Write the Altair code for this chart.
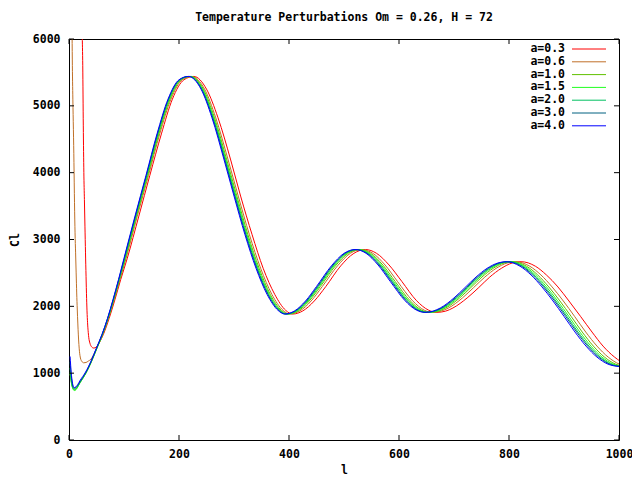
import altair as alt
import pandas as pd

TITLE = "Temperature Perturbations Om = 0.26, H = 72"
X_TITLE = "l"
Y_TITLE = "Cl"
X_TICKS = [0, 200, 400, 600, 800, 1000]
Y_TICKS = [0, 1000, 2000, 3000, 4000, 5000, 6000]

LABELS = ["a=0.3", "a=0.6", "a=1.0", "a=1.5", "a=2.0", "a=3.0", "a=4.0"]
COLORS = ["#ff0000", "#c07028", "#60c000", "#20ff20", "#00c060", "#006080", "#0000ff"]

# shared Cl values of the oscillating part (same peak/trough heights for all a)
CL_MAIN = [1580, 1820, 2100, 2400, 2720, 3350, 3960, 4580, 5100, 5390,
           5440, 5250, 4820, 4190, 3650, 3070, 2570, 2180, 1940, 1885,
           1931, 2080, 2297, 2605, 2793, 2850, 2794, 2618, 2374, 2084,
           1942, 1910, 1929, 1975, 2126, 2281, 2438, 2568, 2649, 2668,
           2600, 2470, 2290, 2080, 1850, 1615, 1405, 1240, 1135, 1100]

# multipole positions of those values for each curve
L_MAIN = {
    "a=0.3": [62.5, 73, 83.5, 94, 106, 127, 147, 168, 188, 209,
              227, 250, 271, 294, 312, 333, 353, 374, 394, 407,
              425, 446, 467, 494, 518, 539, 559, 582, 605, 632,
              654, 669, 685, 698, 724, 745, 765, 786, 806, 822,
              848, 868, 889, 909, 930, 951, 971, 992, 1012, 1033],
    "a=0.6": [61.6, 71.9, 82.3, 92.6, 103.8, 124.2, 144.6, 165, 185.4, 205.8,
              223.1, 246.5, 266.9, 289.4, 307.7, 328.1, 348.4, 368.8, 389.2, 401.5,
              419.8, 440.2, 460.6, 488.1, 511.5, 531.9, 552.3, 574.7, 597.1, 624.6,
              646.1, 661.3, 676.7, 689.9, 715.4, 735.7, 756.1, 776.5, 796.9, 812.2,
              837.7, 858, 878.4, 898.8, 919.2, 939.6, 960, 980.4, 1000.7, 1021.1],
    "a=1.0": [61.1, 71.2, 81.5, 91.7, 102.6, 122.8, 143.1, 163.4, 183.6, 203.9,
              221.1, 244.4, 264.6, 286.9, 305.2, 325.4, 345.7, 365.9, 386.2, 398.4,
              416.6, 436.8, 457.1, 484.4, 507.7, 528, 548.3, 570.6, 592.8, 620.2,
              641.5, 656.6, 671.8, 685, 710.3, 730.6, 750.8, 771.1, 791.4, 806.6,
              831.9, 852.1, 872.4, 892.6, 912.9, 933.2, 953.4, 973.7, 993.9, 1014.2],
    "a=1.5": [60.8, 70.9, 81, 91.2, 101.7, 121.9, 142.1, 162.3, 182.4, 202.6,
              219.8, 243, 263.1, 285.3, 303.5, 323.7, 343.8, 364, 384.2, 396.3,
              414.4, 434.6, 454.8, 482, 505.2, 525.4, 545.6, 567.8, 589.9, 617.2,
              638.4, 653.5, 668.6, 681.8, 707, 727.1, 747.3, 767.5, 787.7, 802.8,
              828, 848.2, 868.4, 888.5, 908.7, 928.9, 949, 969.2, 989.4, 1009.6],
    "a=2.0": [60.5, 70.6, 80.7, 90.8, 101.1, 121.2, 141.3, 161.4, 181.5, 201.6,
              218.7, 241.8, 261.9, 284.1, 302.2, 322.3, 342.4, 362.5, 382.6, 394.7,
              412.8, 432.9, 453, 480.1, 503.2, 523.3, 543.5, 565.6, 587.7, 614.8,
              636, 651, 666.1, 679.2, 704.3, 724.4, 744.5, 764.6, 784.8, 799.8,
              825, 845.1, 865.2, 885.3, 905.4, 925.5, 945.6, 965.7, 985.8, 1005.9],
    "a=3.0": [60.2, 70.3, 80.3, 90.4, 100.6, 120.7, 140.7, 160.8, 180.8, 200.9,
              218, 241, 261.1, 283.2, 301.2, 321.3, 341.3, 361.4, 381.4, 393.5,
              411.5, 431.6, 451.7, 478.7, 501.8, 521.9, 541.9, 564, 586.1, 613.1,
              634.2, 649.2, 664.3, 677.3, 702.4, 722.5, 742.5, 762.6, 782.6, 797.7,
              822.8, 842.8, 862.9, 882.9, 903, 923.1, 943.1, 963.2, 983.2, 1003.3],
    "a=4.0": [60, 70, 80, 90, 100, 120, 140, 160, 180, 200,
              217, 240, 260, 282, 300, 320, 340, 360, 380, 392,
              410, 430, 450, 477, 500, 520, 540, 562, 584, 611,
              632, 647, 662, 675, 700, 720, 740, 760, 780, 795,
              820, 840, 860, 880, 900, 920, 940, 960, 980, 1000],
}

# low-l part of each curve
L_LOW = {
    "a=0.3": [22, 23, 24, 25, 26, 27, 28, 29, 30, 31, 32, 33, 34, 35, 36, 38, 41, 45, 50, 55],
    "a=0.6": [5, 6, 7, 8, 9, 10, 11, 12, 13, 14, 15, 16, 18, 20, 23, 27, 31, 35, 40, 45, 50],
    "a=1.0": [2, 4, 6, 8, 10, 13, 16, 20, 25, 30, 40, 50],
    "a=1.5": [2, 4, 6, 8, 10, 13, 16, 20, 25, 30, 40, 50],
    "a=2.0": [2, 4, 6, 8, 10, 13, 16, 20, 25, 30, 40, 50],
    "a=3.0": [2, 4, 6, 8, 10, 13, 16, 20, 25, 30, 40, 50],
    "a=4.0": [2, 4, 6, 8, 10, 13, 16, 20, 25, 30, 40, 50],
}
CL_LOW = {
    "a=0.3": [7500, 6700, 6100, 5600, 4700, 4000, 3600, 3200, 2800, 2450,
              2120, 1880, 1720, 1610, 1530, 1450, 1395, 1375, 1395, 1455],
    "a=0.6": [6800, 5700, 5100, 4650, 4150, 3550, 3100, 2800, 2500, 2200,
              1960, 1750, 1430, 1260, 1180, 1155, 1160, 1180, 1210, 1280, 1370],
    "a=1.0": [990, 880, 800, 760, 750, 762, 800, 858, 920, 988, 1155, 1355],
    "a=1.5": [1010, 870, 790, 750, 740, 755, 795, 855, 920, 990, 1160, 1360],
    "a=2.0": [1080, 920, 810, 770, 760, 775, 810, 865, 930, 995, 1165, 1365],
    "a=3.0": [1170, 960, 840, 785, 775, 790, 820, 870, 935, 1000, 1170, 1370],
    "a=4.0": [1250, 1010, 870, 800, 785, 800, 830, 890, 950, 1015, 1180, 1380],
}

W, H = 550, 401
FONT = "DejaVu Sans Mono"
FS = 11.5
TICK = 5

xs = alt.Scale(domain=[0, 1000], nice=False, zero=False)
ys = alt.Scale(domain=[0, 6000], nice=False, zero=False)

X_AX = alt.Axis(orient="bottom", values=X_TICKS, ticks=False, tickSize=0, domain=False,
                labelPadding=8, grid=False, title=X_TITLE, titlePadding=5, format="d",
                labelFlush=False)
Y_AX = alt.Axis(orient="left", values=Y_TICKS, ticks=False, tickSize=0, domain=False,
                labelPadding=9, grid=False, title=Y_TITLE, titlePadding=12, format="d",
                labelFlush=False)


def xe():
    return alt.X("l:Q", scale=xs, axis=X_AX)


def ye():
    return alt.Y("Cl:Q", scale=ys, axis=Y_AX)


frames = {}
for lab in LABELS:
    frames[lab] = pd.DataFrame({"l": L_LOW[lab] + L_MAIN[lab],
                                "Cl": CL_LOW[lab] + CL_MAIN})

xt_df = pd.DataFrame({"l": X_TICKS})
yt_df = pd.DataFrame({"Cl": Y_TICKS})

layers = []
# curves, drawn in legend order so a=4.0 ends on top
for lab, col in zip(LABELS, COLORS):
    layers.append(
        alt.Chart(frames[lab]).mark_line(color=col, strokeWidth=1, interpolate="monotone",
                                         clip=True).encode(x=xe(), y=ye())
    )

# gnuplot-style inward ticks on all four sides
tick_style = dict(color="black", strokeWidth=1)
layers += [
    alt.Chart(xt_df).mark_rule(**tick_style).encode(
        x=xe(), y=alt.value(H), y2=alt.value(H - TICK)),
    alt.Chart(xt_df).mark_rule(**tick_style).encode(
        x=xe(), y=alt.value(0), y2=alt.value(TICK)),
    alt.Chart(yt_df).mark_rule(**tick_style).encode(
        y=ye(), x=alt.value(0), x2=alt.value(TICK)),
    alt.Chart(yt_df).mark_rule(**tick_style).encode(
        y=ye(), x=alt.value(W), x2=alt.value(W - TICK)),
]

# gnuplot-style key: text then line sample, top right
for i, (lab, col) in enumerate(zip(LABELS, COLORS)):
    ypos = 10 + 12.8 * i
    kdf = pd.DataFrame({"label": [lab]})
    layers.append(alt.Chart(kdf).mark_text(align="right", baseline="middle", font=FONT,
                                           fontSize=FS, fontWeight="bold", color="black").encode(
        x=alt.value(496), y=alt.value(ypos), text="label:N"))
    layers.append(alt.Chart(kdf).mark_rule(color=col, strokeWidth=1).encode(
        x=alt.value(503), x2=alt.value(537), y=alt.value(ypos)))

# chart title, centred over the plot
tdf = pd.DataFrame({"title": [TITLE]})
layers.append(alt.Chart(tdf).mark_text(align="center", baseline="middle", font=FONT,
                                       fontSize=FS, fontWeight="bold", color="black").encode(
    x=alt.value(W / 2), y=alt.value(-21), text="title:N"))

chart = alt.layer(*layers).properties(
    width=W, height=H,
    background="white",
    autosize=alt.AutoSizeParams(type="none"),
    padding={"left": 61, "top": 31, "right": 13, "bottom": 40},
).configure_view(stroke="black", strokeWidth=1).configure_axis(
    grid=False, labelFont=FONT, labelFontSize=FS, labelFontWeight="bold", labelColor="black",
    titleFont=FONT, titleFontSize=FS, titleFontWeight="bold", titleColor="black",
)

chart.save("out.html", embed_options={"renderer": "svg", "actions": False})
